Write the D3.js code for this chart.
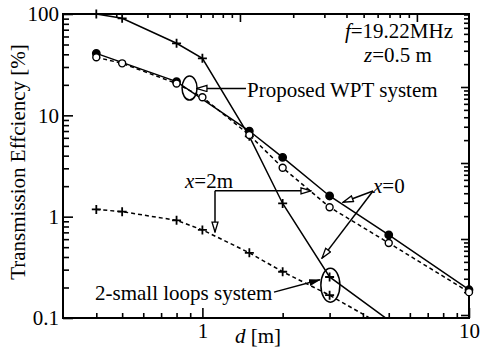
<!DOCTYPE html>
<html>
<head>
<meta charset="utf-8">
<script src="https://cdn.jsdelivr.net/npm/d3@7"></script>
<style>
  body { margin: 0; background: #fff; }
  svg text { font-family: "Liberation Serif", "Times New Roman", "DejaVu Serif", serif; font-size: 21px; fill: #000; }
</style>
</head>
<body>
<script>
// data (d in m, efficiency in %)
const dProposed0 = [0.4, 0.8, 1.5, 2, 3, 5, 10]
const effProposed0 = [40.9, 21.5, 7.0, 3.85, 1.6, 0.66, 0.19]
const dProposed2 = [0.4, 0.5, 0.8, 1, 1.5, 2, 3, 5, 10]
const effProposed2 = [37.4, 32.6, 20.6, 15.1, 6.4, 3.04, 1.24, 0.55, 0.18]
const dLoops = [0.4, 0.5, 0.8, 1, 1.5, 2, 3, 5]
const effLoops0 = [100, 90.7, 51.4, 36.5, 6.2, 1.35, 0.254, 0.095]
const effLoops2 = [1.18, 1.12, 0.92, 0.74, 0.44, 0.286, 0.168, 0.078]

const xTickLabels = [1, 10]
const yTickLabels = [0.1, 1, 10, 100]

const margin = {top: 14, bottom: 36, left: 63, right: 11}
const width = 480 - margin.left - margin.right
const height = 354 - margin.top - margin.bottom

const svg = d3.select('body').append('svg')
  .attr('width', 480)
  .attr('height', 354)

const g = svg.append('g')
  .attr('transform', `translate(${margin.left},${margin.top})`)

// scales
const x = d3.scaleLog().domain([0.3, 10]).range([0, width])
const y = d3.scaleLog().domain([0.1, 100]).range([height, 0])
// the top and right frame ticks in the figure do not line up with the bottom/left ones
const xTop = d3.scaleLog().domain([0.1, 19.7]).range([0, width])
const yRight = d3.scaleLog().domain([1, 10000]).range([height - 3, -3])

const isMajor = (d) => Math.abs(Math.log10(d) - Math.round(Math.log10(d))) < 1e-6

// axes, ticks pointing inwards
const tickStyle = (sel) => {
  sel.select('.domain').remove()
  sel.selectAll('.tick line').attr('stroke', '#000').attr('stroke-width', 1.6)
  sel.attr('font-family', null).attr('font-size', null)
}

const xMinor = x.ticks().filter((d) => d > 0.3 && !isMajor(d))
g.append('g').attr('transform', `translate(0,${height})`)
  .call(d3.axisBottom(x).tickValues(xMinor).tickSize(-5).tickFormat(''))
  .call(tickStyle)
g.append('g').attr('transform', `translate(0,${height})`)
  .call(d3.axisBottom(x).tickValues(xTickLabels).tickSize(-10).tickPadding(5).tickFormat(d3.format('d')))
  .call(tickStyle)

const yMinor = y.ticks().filter((d) => !isMajor(d))
g.append('g')
  .call(d3.axisLeft(y).tickValues(yMinor).tickSize(-6).tickFormat(''))
  .call(tickStyle)
g.append('g')
  .call(d3.axisLeft(y).tickValues(yTickLabels).tickSize(-10).tickPadding(4).tickFormat((d) => d < 1 ? d.toString() : d3.format('d')(d)))
  .call(tickStyle)

const topTicks = xTop.ticks().filter((d) => d > 0.1 && d < 19.7)
g.append('g')
  .call(d3.axisTop(xTop).tickValues(topTicks.filter((d) => !isMajor(d))).tickSize(-4).tickFormat(''))
  .call(tickStyle)
g.append('g')
  .call(d3.axisTop(xTop).tickValues(topTicks.filter(isMajor)).tickSize(-8).tickFormat(''))
  .call(tickStyle)

const rightTicks = yRight.ticks().filter((d) => yRight(d) >= -1 && yRight(d) <= height)
g.append('g').attr('transform', `translate(${width},0)`)
  .call(d3.axisRight(yRight).tickValues(rightTicks.filter((d) => !isMajor(d))).tickSize(-5).tickFormat(''))
  .call(tickStyle)
g.append('g').attr('transform', `translate(${width},0)`)
  .call(d3.axisRight(yRight).tickValues(rightTicks.filter(isMajor)).tickSize(-8).tickFormat(''))
  .call(tickStyle)

// frame
g.append('rect')
  .attr('width', width).attr('height', height)
  .attr('fill', 'none').attr('stroke', '#000').attr('stroke-width', 2)

// clip for the curves that run below 0.1
g.append('clipPath').attr('id', 'plot-clip')
  .append('rect').attr('width', width).attr('height', height)

const plot = g.append('g').attr('clip-path', 'url(#plot-clip)')
const marks = g.append('g')

const line = d3.line().x((d) => x(d[0])).y((d) => y(d[1]))

const series = [
  {pts: d3.zip(dLoops, effLoops0), dash: null, marker: 'cross'},
  {pts: d3.zip(dLoops, effLoops2), dash: '4,3', marker: 'cross'},
  {pts: d3.zip(dProposed0, effProposed0), dash: null, marker: 'filled'},
  {pts: d3.zip(dProposed2, effProposed2), dash: '4,3', marker: 'open'}
]

series.forEach((s) => {
  plot.append('path')
    .attr('d', line(s.pts))
    .attr('fill', 'none')
    .attr('stroke', '#000')
    .attr('stroke-width', 1.5)
    .attr('stroke-dasharray', s.dash)
})

// markers (only the points inside the y range): crosses first, circles over them
const inside = (d) => d[1] >= 0.1
series.filter((s) => s.marker === 'cross').forEach((s) => {
  marks.selectAll(null).data(s.pts.filter(inside)).join('path')
    .attr('d', (d) => `M${x(d[0]) - 4.5},${y(d[1])}h9M${x(d[0])},${y(d[1]) - 4.5}v9`)
    .attr('stroke', '#000')
    .attr('stroke-width', 1.8)
})
series.filter((s) => s.marker !== 'cross').forEach((s) => {
  marks.selectAll(null).data(s.pts.filter(inside)).join('circle')
    .attr('cx', (d) => x(d[0]))
    .attr('cy', (d) => y(d[1]))
    .attr('r', s.marker === 'filled' ? 3.7 : 3.5)
    .attr('fill', s.marker === 'filled' ? '#000' : '#fff')
    .attr('stroke', '#000')
    .attr('stroke-width', 1.4)
})

// arrow heads
const defs = svg.append('defs')
defs.append('marker').attr('id', 'hollow')
  .attr('viewBox', '0 0 12 8').attr('refX', 11).attr('refY', 4)
  .attr('markerWidth', 12).attr('markerHeight', 8)
  .attr('markerUnits', 'userSpaceOnUse').attr('orient', 'auto')
  .append('path').attr('d', 'M1,1L11,4L1,7z')
  .attr('fill', '#fff').attr('stroke', '#000').attr('stroke-width', 1.3)
defs.append('marker').attr('id', 'solid')
  .attr('viewBox', '0 0 12 8').attr('refX', 11).attr('refY', 4)
  .attr('markerWidth', 12).attr('markerHeight', 8)
  .attr('markerUnits', 'userSpaceOnUse').attr('orient', 'auto')
  .append('path').attr('d', 'M0,0.5L12,4L0,7.5z').attr('fill', '#000')

// annotation arrows, given in data coordinates
const arrows = [
  {from: [1.457, 18.4], to: [0.954, 18.4], head: 'hollow'},
  {from: [1.115, 1.8], to: [2.555, 1.8], head: 'hollow'},
  {from: [1.115, 1.8], to: [1.115, 0.705], head: 'hollow'},
  {from: [4.365, 1.79], to: [3.37, 1.39], head: 'hollow'},
  {from: [4.365, 1.79], to: [2.81, 0.39], head: 'hollow'},
  {from: [1.856, 0.18], to: [2.76, 0.239], head: 'solid'}
]
g.selectAll('.arrow').data(arrows).join('line')
  .attr('class', 'arrow')
  .attr('x1', (d) => x(d.from[0])).attr('y1', (d) => y(d.from[1]))
  .attr('x2', (d) => x(d.to[0])).attr('y2', (d) => y(d.to[1]))
  .attr('stroke', '#000').attr('stroke-width', 1.5)
  .attr('marker-end', (d) => `url(#${d.head})`)

const ellipses = [
  {c: [0.895, 18.6], rx: 7.5, ry: 12},
  {c: [3.02, 0.211], rx: 9.5, ry: 17}
]
g.selectAll('ellipse').data(ellipses).join('ellipse')
  .attr('cx', (d) => x(d.c[0])).attr('cy', (d) => y(d.c[1]))
  .attr('rx', (d) => d.rx).attr('ry', (d) => d.ry)
  .attr('fill', 'none').attr('stroke', '#000').attr('stroke-width', 1.5)

// texts
const label = (tx, ty, parts, anchor) => {
  const t = svg.append('text').attr('x', tx).attr('y', ty).attr('text-anchor', anchor || 'start')
  parts.forEach((p) => t.append('tspan').attr('font-style', p[1] ? 'italic' : null).text(p[0]))
  return t
}
label(453, 38, [['f', true], ['=19.22MHz']], 'end')
label(398, 62, [['z', true], ['=0.5 m']], 'middle')
label(247, 97, [['Proposed WPT system']])
label(185, 188, [['x', true], ['=2m']])
label(373, 193, [['x', true], ['=0']])
label(95, 300, [['2-small loops system']])
label(235, 343, [['d', true], [' [m]']])

svg.append('text')
  .attr('transform', 'translate(25,162) rotate(-90)')
  .attr('text-anchor', 'middle')
  .text('Transmission Effciency [%]')
</script>
</body>
</html>
